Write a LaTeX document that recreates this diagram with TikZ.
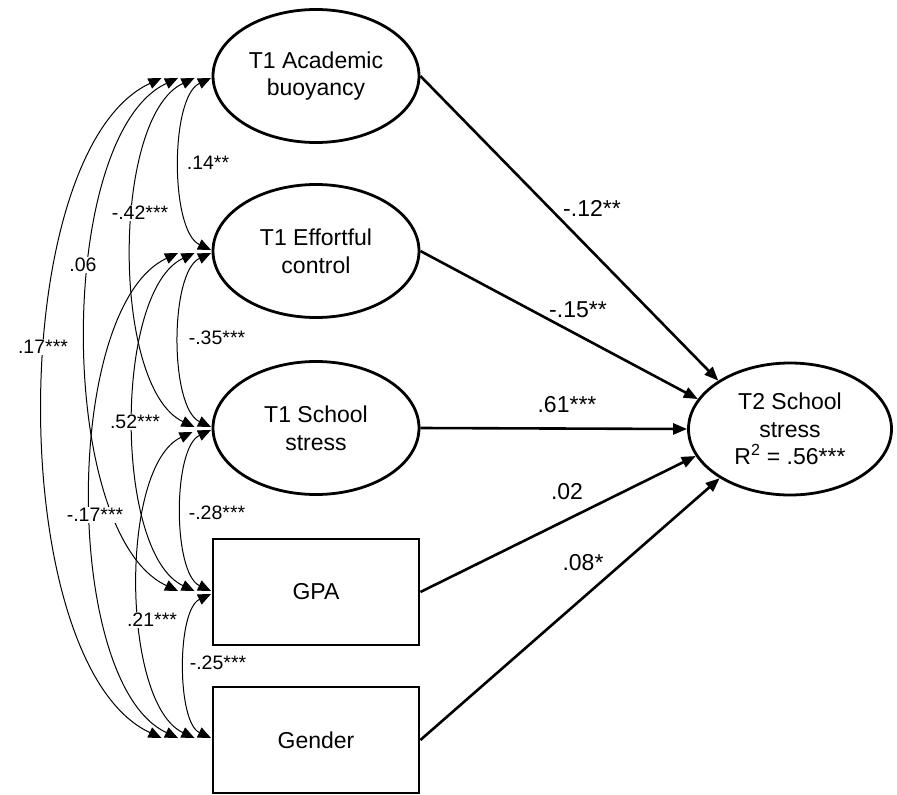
\documentclass[tikz,border=0pt]{standalone}
\usepackage{fontspec}
\setmainfont{Liberation Sans}
\usetikzlibrary{shapes.geometric,arrows.meta}
\tikzset{
  lat/.style={ellipse, draw, line width=2.8pt, minimum width=206pt, minimum height=133pt,
    align=center, inner sep=0pt, font=\fontsize{23}{27.6}\selectfont},
  obs/.style={rectangle, draw, line width=2.8pt, minimum width=206pt, minimum height=106pt,
    align=center, inner sep=0pt, font=\fontsize{23}{27.6}\selectfont},
  path/.style={line width=2.6pt, -{Triangle[length=14pt,width=11pt]}},
  plabel/.style={inner sep=1pt, font=\fontsize{23}{27.6}\selectfont},
  corr/.style={line width=1pt, {Triangle[length=13pt,width=11pt]}-{Triangle[length=13pt,width=11pt]},
    out=205, in=155, looseness=0.675},
  clabel/.style={fill=white, inner sep=1.5pt, font=\fontsize{19.5}{23}\selectfont}
}
\begin{document}
\begin{tikzpicture}[x=1pt, y=-1pt]
\useasboundingbox (0,0) rectangle (897,795);
% nodes
\node[lat] (AB) at (316,76) {T1 Academic\\buoyancy};
\node[lat] (EC) at (316,251) {T1 Effortful\\control};
\node[lat] (SS) at (316,428) {T1 School\\stress};
\node[obs] (GPA) at (316,592) {GPA};
\node[obs] (GEN) at (316,740) {Gender};
\node[lat, minimum width=203pt, minimum height=132pt] (T2) at (790,429) {T2 School\\stress\\R\textsuperscript{2} = .56***};
% correlation end points
\coordinate (ABu1) at (211,78);   \coordinate (ABu2) at (194.5,78);
\coordinate (ABu3) at (178,78);   \coordinate (ABu4) at (161.5,78);
\coordinate (ECd1) at (211,250);  \coordinate (ECu1) at (211,253);
\coordinate (ECu2) at (194.5,253);\coordinate (ECu3) at (178,253);
\coordinate (SSd1) at (211,427);  \coordinate (SSd2) at (194.5,427);
\coordinate (SSu1) at (211,430);  \coordinate (SSu2) at (192.5,432);
\coordinate (GPAd1) at (211,591); \coordinate (GPAd2) at (194.5,591);
\coordinate (GPAd3) at (178,591); \coordinate (GPAu1) at (211,594);
\coordinate (GENd1) at (211,738); \coordinate (GENd2) at (194.5,738);
\coordinate (GENd3) at (178,738); \coordinate (GENd4) at (161.5,738);
% correlations
\draw[corr] (ABu1) to (ECd1);
\draw[corr] (ECu1) to (SSd1);
\draw[corr] (SSu1) to (GPAd1);
\draw[corr] (GPAu1) to (GENd1);
\draw[corr] (ABu2) to (SSd2);
\draw[corr] (ECu2) to (GPAd2);
\draw[corr] (SSu2) to (GENd2);
\draw[corr] (ABu3) to (GPAd3);
\draw[corr] (ECu3) to (GENd3);
\draw[corr] (ABu4) to (GENd4);
% correlation labels
\node[clabel] (c1) at (208,163) {.14**};
\node[clabel] (c2) at (217,338) {-.35***};
\node[clabel] (c3) at (217,513) {-.28***};
\node[clabel] (c4) at (218,663) {-.25***};
\node[clabel] (c5) at (140,213) {-.42***};
\node[clabel] (c6) at (135,422) {.52***};
\node[clabel] (c7) at (152,620) {.21***};
\node[clabel] (c8) at (83,265) {.06};
\node[clabel] (c9) at (95,515) {-.17***};
\node[clabel] (c10) at (43,347) {.17***};
% paths
\draw[path] (AB.east) -- (T2.146);
\draw[path] (EC.east) -- (T2.162);
\draw[path] (SS.east) -- (T2.west);
\draw[path] (GPA.east) -- (T2.196);
\draw[path] (GEN.east) -- (T2.215);
% path labels
\node[plabel] (p1) at (592,208) {-.12**};
\node[plabel] (p2) at (578,310) {-.15**};
\node[plabel] (p3) at (567,405) {.61***};
\node[plabel] (p4) at (567,492) {.02};
\node[plabel] (p5) at (583,563) {.08*};
\end{tikzpicture}
\end{document}
